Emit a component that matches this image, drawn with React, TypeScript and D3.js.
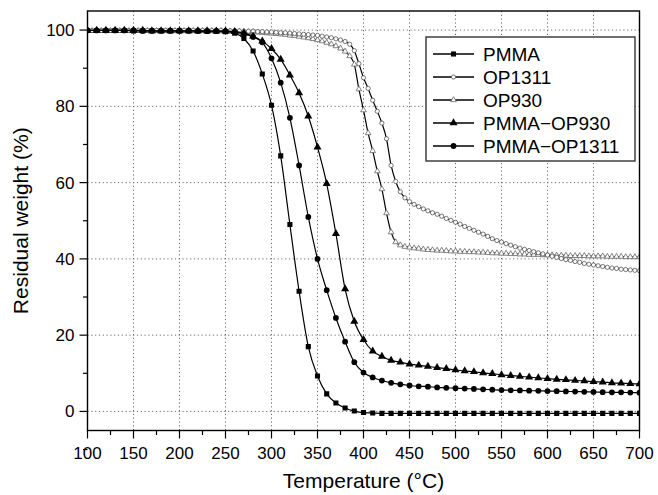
import React from "react";
import * as d3 from "d3";

const T10 = d3.range(100, 701, 10);
const T5 = d3.range(100, 701, 5);

const pmma = [
  99.9, 99.9, 99.9, 99.9, 99.9, 99.8, 99.8, 99.8, 99.8, 99.8, 99.8, 99.8, 99.7, 99.7, 99.7, 99.6,
  99.2, 97.8, 94.5, 88.5, 80.3, 67, 49, 31.5, 17, 9.3, 4.6, 2.2, 0.9, 0.1, -0.3, -0.4,
  -0.5, -0.5, -0.5, -0.5, -0.5, -0.5, -0.5, -0.5, -0.5, -0.5, -0.5, -0.5, -0.5, -0.5, -0.5,
  -0.5, -0.5, -0.5, -0.5, -0.5, -0.5, -0.5, -0.5, -0.5, -0.5, -0.5, -0.5, -0.5, -0.5,
];

const pmmaOp1311 = [
  99.9, 99.9, 99.9, 99.9, 99.9, 99.9, 99.8, 99.8, 99.8, 99.8, 99.8, 99.8, 99.8, 99.7, 99.7, 99.7,
  99.5, 99.0, 98.2, 96.8, 92.6, 86.2, 77.0, 64.5, 51.0, 40.0, 31.8, 24.5, 18.3, 12.9, 10.2, 8.9,
  8.1, 7.5, 7.1, 6.8, 6.6, 6.5, 6.3, 6.2, 6.1, 6.0, 5.9, 5.8, 5.7, 5.6, 5.55, 5.5, 5.45, 5.4,
  5.35, 5.3, 5.25, 5.2, 5.15, 5.1, 5.05, 5.0, 5.0, 4.95, 4.9,
];

const pmmaOp930 = [
  99.9, 99.9, 99.9, 99.9, 99.9, 99.9, 99.9, 99.8, 99.8, 99.8, 99.8, 99.8, 99.8, 99.8, 99.7, 99.7,
  99.6, 99.2, 98.4, 97.1, 95.1, 92.3, 88.2, 83.5, 77.4, 69.3, 59.7, 46.6, 32.1, 23.6, 18.8, 15.8,
  14.4, 13.4, 12.9, 12.4, 12.1, 11.8, 11.5, 11.2, 10.9, 10.6, 10.4, 10.1, 9.9, 9.6, 9.4, 9.2,
  9.0, 8.8, 8.6, 8.4, 8.3, 8.1, 8.0, 7.8, 7.7, 7.5, 7.4, 7.3, 7.2,
];

const op1311 = [
  99.9, 99.9, 99.9, 99.9, 99.9, 99.9, 99.9, 99.9, 99.9, 99.9, 99.9, 99.9, 99.9, 99.9, 99.9, 99.9,
  99.9, 99.9, 99.9, 99.9, 99.9, 99.9, 99.9, 99.9, 99.9, 99.9, 99.9, 99.9, 99.9, 99.9, 99.9,
  99.8, 99.8, 99.8, 99.7, 99.7, 99.7, 99.6, 99.6, 99.5, 99.5,
  99.4, 99.3, 99.3, 99.2, 99.1, 99.0, 98.9, 98.8, 98.7, 98.6,
  98.4, 98.2, 98.0, 97.7, 97.4, 97.0, 96.3, 94.6, 91.2, 87.5,
  84.7, 81.6, 78.7, 75.6, 71.5, 64.5, 60.3, 57.6, 56.0, 55.0,
  54.3, 53.7, 53.1, 52.6, 52.1, 51.7, 51.2, 50.6, 50.1, 49.6,
  49.1, 48.5, 48.0, 47.5, 47.0, 46.5, 45.9, 45.3, 44.8, 44.4,
  44.0, 43.6, 43.2, 42.8, 42.5, 42.2, 41.9, 41.6, 41.3, 41.0,
  40.7, 40.4, 40.1, 39.8, 39.6, 39.3, 39.1, 38.8, 38.6, 38.4,
  38.2, 38.0, 37.8, 37.6, 37.5, 37.3, 37.2, 37.1, 37.0, 36.9,
];

const op930 = [
  99.8, 99.8, 99.8, 99.8, 99.8, 99.8, 99.8, 99.8, 99.8, 99.8, 99.8, 99.8, 99.8, 99.8, 99.8, 99.8,
  99.8, 99.8, 99.8, 99.8, 99.8, 99.8, 99.8, 99.8, 99.8, 99.8, 99.8, 99.8, 99.8, 99.8, 99.8,
  99.7, 99.7, 99.6, 99.6, 99.5, 99.5, 99.4, 99.3, 99.2, 99.1,
  99.0, 98.9, 98.8, 98.6, 98.5, 98.3, 98.1, 97.9, 97.7, 97.4,
  97.1, 96.7, 96.3, 95.8, 95.2, 94.4, 93.2, 91.0, 84.5, 79.0,
  73.0, 68.3, 63.0, 58.3, 52.0, 47.0, 44.4, 43.6, 43.2, 43.0,
  42.8, 42.7, 42.5, 42.4, 42.3, 42.2, 42.2, 42.1, 42.0, 42.0,
  41.9, 41.9, 41.8, 41.8, 41.7, 41.7, 41.6, 41.5, 41.5, 41.4,
  41.4, 41.3, 41.3, 41.2, 41.2, 41.1, 41.1, 41.1, 41.0, 41.0,
  41.0, 40.9, 40.9, 40.9, 40.8, 40.8, 40.8, 40.8, 40.7, 40.7,
  40.7, 40.7, 40.6, 40.6, 40.6, 40.6, 40.5, 40.5, 40.5, 40.5,
];

const xTicks = d3.range(100, 701, 50);
const xMinor = d3.range(125, 700, 50);
const yTicks = [0, 20, 40, 60, 80, 100];
const yMinor = [-10, 10, 30, 50, 70, 90];

type Series = {
  name: string;
  xs: number[];
  ys: number[];
  symbol: d3.SymbolType;
  size: number;
  fill: string;
  stroke: string;
  strokeW: number;
};

const series: Series[] = [
  { name: "OP930", xs: T5, ys: op930, symbol: d3.symbolTriangle, size: 14, fill: "#fff", stroke: "#666", strokeW: 0.8 },
  { name: "OP1311", xs: T5, ys: op1311, symbol: d3.symbolCircle, size: 14, fill: "#fff", stroke: "#555", strokeW: 0.8 },
  { name: "PMMA", xs: T10, ys: pmma, symbol: d3.symbolSquare, size: 26, fill: "#000", stroke: "#000", strokeW: 0 },
  { name: "PMMA\u2212OP930", xs: T10, ys: pmmaOp930, symbol: d3.symbolTriangle, size: 28, fill: "#000", stroke: "#000", strokeW: 0 },
  { name: "PMMA\u2212OP1311", xs: T10, ys: pmmaOp1311, symbol: d3.symbolCircle, size: 26, fill: "#000", stroke: "#000", strokeW: 0 },
];

const legendOrder = ["PMMA", "OP1311", "OP930", "PMMA\u2212OP930", "PMMA\u2212OP1311"];

export default function App() {
  const W = 658, H = 495;
  const L = 87.5, R = 639.5, T = 11, B = 430.5;
  const x = d3.scaleLinear().domain([100, 700]).range([L, R]);
  const y = d3.scaleLinear().domain([-5, 105]).range([B, T]);
  const font = "'Liberation Sans', Arial, sans-serif";

  const line = d3
    .line<[number, number]>()
    .x((d) => x(d[0]))
    .y((d) => y(d[1]))
    .curve(d3.curveMonotoneX);

  const legX = 426, legY = 37, legW = 209, legH = 124;

  return (
    <svg width={W} height={H} style={{ position: "absolute", left: 0, top: 0, background: "#fff" }}>
      <defs>
        <clipPath id="clip">
          <rect x={L} y={T} width={R - L} height={B - T} />
        </clipPath>
      </defs>
      <rect x={0} y={0} width={W} height={H} fill="#fff" />
      {/* grid */}
      <g stroke="#6a6a6a" strokeWidth={1} strokeDasharray="1.2,2.6">
        {xTicks.filter((t) => t > 100 && t < 700).map((t) => (
          <line key={"gx" + t} x1={x(t)} x2={x(t)} y1={T} y2={B} />
        ))}
        {yTicks.map((t) => (
          <line key={"gy" + t} x1={L} x2={R} y1={y(t)} y2={y(t)} />
        ))}
      </g>
      {/* series */}
      <g clipPath="url(#clip)">
        {series.map((s) => {
          const pts = s.xs.map((t, i) => [t, s.ys[i]] as [number, number]);
          const sym = d3.symbol().type(s.symbol).size(s.size)();
          return (
            <g key={s.name}>
              <path d={line(pts) || ""} fill="none" stroke="#000" strokeWidth={1.2} />
              {pts.map((p, i) => (
                <path
                  key={i}
                  d={sym || ""}
                  transform={`translate(${x(p[0])},${y(p[1])})`}
                  fill={s.fill}
                  stroke={s.stroke}
                  strokeWidth={s.strokeW}
                />
              ))}
            </g>
          );
        })}
      </g>
      {/* frame */}
      <rect x={L} y={T} width={R - L} height={B - T} fill="none" stroke="#000" strokeWidth={1.4} />
      {/* x ticks */}
      <g stroke="#000" strokeWidth={1.2}>
        {xTicks.map((t) => (
          <line key={"xt" + t} x1={x(t)} x2={x(t)} y1={B} y2={B + 8} />
        ))}
        {xMinor.map((t) => (
          <line key={"xm" + t} x1={x(t)} x2={x(t)} y1={B} y2={B + 4.5} />
        ))}
        {yTicks.map((t) => (
          <line key={"yt" + t} x1={L - 8} x2={L} y1={y(t)} y2={y(t)} />
        ))}
        {yMinor.map((t) => (
          <line key={"ym" + t} x1={L - 4.5} x2={L} y1={y(t)} y2={y(t)} />
        ))}
      </g>
      <g fontFamily={font} fontSize={17} fill="#000">
        {xTicks.map((t) => (
          <text key={"xl" + t} x={x(t)} y={459} textAnchor="middle">
            {t}
          </text>
        ))}
        {yTicks.map((t) => (
          <text key={"yl" + t} x={L - 13} y={y(t) + 6} textAnchor="end">
            {t}
          </text>
        ))}
      </g>
      <text x={(L + R) / 2} y={488} textAnchor="middle" fontFamily={font} fontSize={21}>
        Temperature (°C)
      </text>
      <text
        transform={`translate(28,${(T + B) / 2}) rotate(-90)`}
        textAnchor="middle"
        fontFamily={font}
        fontSize={21}
      >
        Residual weight (%)
      </text>
      {/* legend */}
      <g>
        <rect x={legX} y={legY} width={legW} height={legH} fill="#fff" stroke="#333" strokeWidth={1.4} />
        {legendOrder.map((name, i) => {
          const s = series.find((d) => d.name === name)!;
          const cy = legY + 17 + i * 23;
          const sym = d3.symbol().type(s.symbol).size(s.size)();
          return (
            <g key={name}>
              <line x1={legX + 7} x2={legX + 48} y1={cy} y2={cy} stroke="#000" strokeWidth={1.3} />
              <path d={sym || ""} transform={`translate(${legX + 27.5},${cy})`} fill={s.fill} stroke={s.stroke} strokeWidth={s.strokeW} />
              <text x={legX + 57} y={cy + 6.5} fontFamily={font} fontSize={19}>
                {name}
              </text>
            </g>
          );
        })}
      </g>
    </svg>
  );
}
